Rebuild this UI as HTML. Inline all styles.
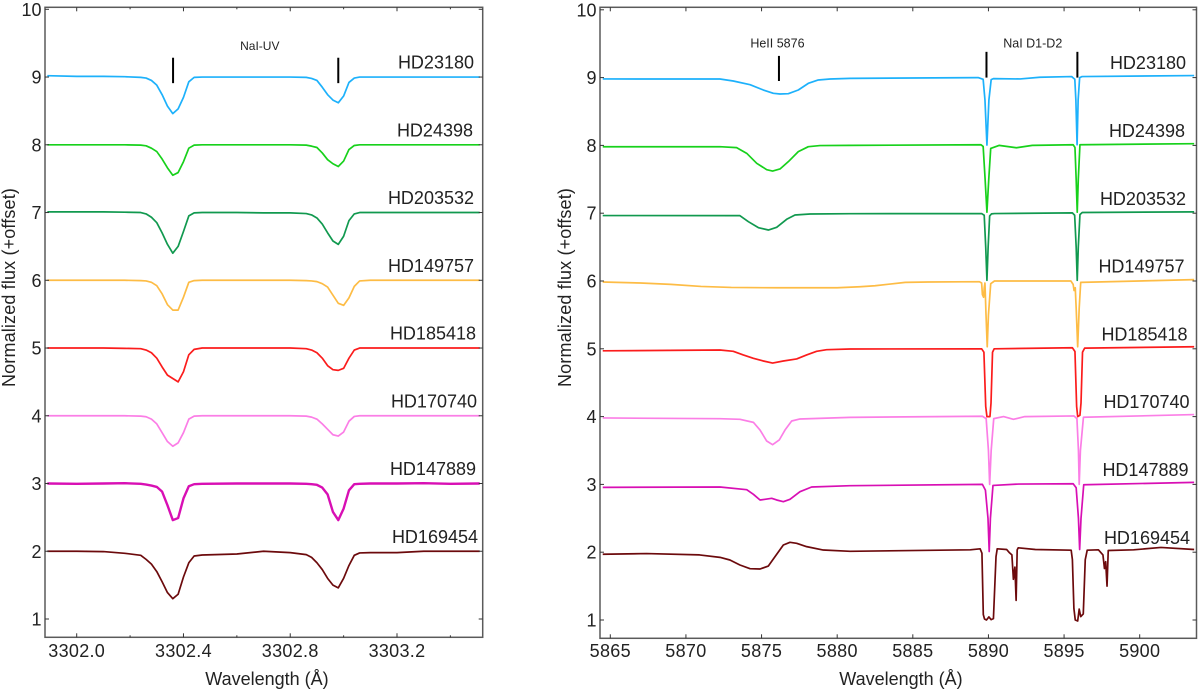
<!DOCTYPE html>
<html lang="en">
<head>
<meta charset="utf-8">
<title>Normalized stellar spectra</title>
<style>
  html, body { margin: 0; padding: 0; background: #fff; }
  svg { display: block; }
  text { font-family: "Liberation Sans", sans-serif; fill: #222; }
</style>
</head>
<body>
<svg id="figure" xmlns="http://www.w3.org/2000/svg" width="1200" height="691" viewBox="0 0 1200 691">
  <g id="left-panel"></g>
  <g id="right-panel"></g>
</svg>
<script>
const starNames = ["HD23180", "HD24398", "HD203532", "HD149757", "HD185418", "HD170740", "HD147889", "HD169454"];
const starSlugs = ["hd23180", "hd24398", "hd203532", "hd149757", "hd185418", "hd170740", "hd147889", "hd169454"];
const starColors = ["#1db1fb", "#17d11b", "#11994f", "#fdbc45", "#fb1c1c", "#fb7ee6", "#d80fb4", "#6c0a0c"];
const labelFlux = [9, 8, 7, 6, 5, 4, 3, 2];

const yTickValues = [1, 2, 3, 4, 5, 6, 7, 8, 9, 10];
const leftXTicks = [3302.0, 3302.4, 3302.8, 3303.2];
const leftXMinorTicks = [3302.2, 3302.6, 3303.0, 3303.4];
const rightXTicks = [5865, 5870, 5875, 5880, 5885, 5890, 5895, 5900];

const leftWave = [3301.89, 3302.0, 3302.1, 3302.18, 3302.24, 3302.26, 3302.28, 3302.30, 3302.32, 3302.34, 3302.36, 3302.38, 3302.40, 3302.42, 3302.44, 3302.47, 3302.6, 3302.7, 3302.8, 3302.86, 3302.88, 3302.90, 3302.92, 3302.94, 3302.96, 3302.98, 3303.0, 3303.02, 3303.04, 3303.06, 3303.1, 3303.2, 3303.3, 3303.4, 3303.51];
const leftHD23180 = [9.02, 9.01, 9.01, 9.005, 8.995, 8.985, 8.95, 8.88, 8.74, 8.57, 8.46, 8.53, 8.70, 8.93, 8.995, 9.0, 9.0, 9.0, 9.0, 8.995, 8.98, 8.95, 8.85, 8.74, 8.66, 8.62, 8.72, 8.92, 8.985, 9.0, 9.0, 9.0, 9.0, 9.0, 9.0];
const leftHD24398 = [8.0, 8.0, 8.0, 8.0, 7.995, 7.985, 7.95, 7.90, 7.79, 7.66, 7.55, 7.59, 7.75, 7.95, 7.995, 8.0, 8.0, 8.0, 8.0, 7.995, 7.98, 7.96, 7.88, 7.78, 7.72, 7.68, 7.76, 7.93, 7.99, 8.0, 8.0, 8.0, 8.0, 8.0, 8.0];
const leftHD203532 = [7.01, 7.01, 7.01, 7.005, 7.0, 6.98, 6.93, 6.85, 6.70, 6.53, 6.40, 6.50, 6.72, 6.95, 6.995, 7.0, 7.0, 6.995, 6.995, 6.985, 6.965, 6.92, 6.83, 6.70, 6.58, 6.53, 6.65, 6.88, 6.98, 7.0, 7.0, 7.0, 7.0, 7.0, 7.0];
const leftHD149757 = [6.0, 6.0, 6.0, 6.0, 5.995, 5.99, 5.97, 5.92, 5.80, 5.64, 5.56, 5.56, 5.75, 5.97, 5.995, 6.0, 6.0, 6.0, 6.0, 5.995, 5.99, 5.98, 5.95, 5.90, 5.78, 5.66, 5.63, 5.74, 5.91, 5.99, 6.0, 6.0, 6.0, 6.0, 6.0];
const leftHD185418 = [5.0, 5.0, 5.0, 4.995, 4.99, 4.97, 4.93, 4.85, 4.72, 4.60, 4.55, 4.50, 4.65, 4.90, 4.98, 5.0, 5.0, 5.0, 5.0, 4.99, 4.97, 4.93, 4.85, 4.74, 4.68, 4.67, 4.70, 4.85, 4.97, 5.0, 5.0, 5.0, 5.0, 5.0, 5.0];
const leftHD170740 = [4.0, 4.0, 4.0, 4.0, 3.995, 3.985, 3.95, 3.88, 3.75, 3.62, 3.55, 3.60, 3.75, 3.95, 3.995, 4.0, 4.0, 4.0, 4.0, 3.995, 3.98, 3.95, 3.88, 3.80, 3.72, 3.70, 3.76, 3.92, 3.99, 4.0, 4.0, 4.0, 4.0, 4.0, 4.0];
const leftHD147889 = [3.0, 2.995, 3.0, 3.005, 2.995, 2.985, 2.97, 2.95, 2.88, 2.68, 2.46, 2.49, 2.78, 2.96, 2.99, 2.995, 3.0, 3.0, 3.0, 2.995, 2.99, 2.98, 2.94, 2.84, 2.58, 2.46, 2.63, 2.90, 2.99, 2.995, 3.0, 3.0, 3.005, 2.995, 3.0];
const leftHD169454 = [2.0, 2.0, 1.995, 1.97, 1.94, 1.88, 1.81, 1.70, 1.55, 1.39, 1.30, 1.365, 1.62, 1.83, 1.93, 1.945, 1.96, 2.0, 1.98, 1.95, 1.91, 1.83, 1.73, 1.60, 1.50, 1.46, 1.60, 1.79, 1.94, 1.975, 1.98, 1.98, 2.0, 2.0, 2.0];
const leftFluxes = [leftHD23180, leftHD24398, leftHD203532, leftHD149757, leftHD185418, leftHD170740, leftHD147889, leftHD169454];

const rightWaveHD23180 = [5864.5, 5872.25, 5873.13, 5874.24, 5875.12, 5875.78, 5876.22, 5876.77, 5877.43, 5878.09, 5878.75, 5879.53, 5880.85, 5889.32, 5889.65, 5889.77, 5889.9, 5890.03, 5890.18, 5890.33, 5892.1, 5893.4, 5895.5, 5895.71, 5895.78, 5895.86, 5895.93, 5896.03, 5896.19, 5903.6];
const rightFluxHD23180 = [8.98, 8.979, 8.95, 8.896, 8.817, 8.768, 8.758, 8.763, 8.817, 8.915, 8.965, 8.979, 8.989, 9.0, 8.975, 8.67, 8.005, 8.67, 8.97, 8.985, 8.98, 9.005, 9.015, 8.975, 8.67, 8.01, 8.67, 9.0, 9.015, 9.03];
const rightWaveHD24398 = [5864.5, 5872.25, 5873.35, 5874.02, 5874.68, 5875.34, 5875.73, 5876.22, 5876.77, 5877.43, 5878.09, 5878.86, 5880.85, 5889.5, 5889.65, 5889.78, 5889.9, 5890.02, 5890.15, 5890.7, 5891.85, 5892.9, 5895.6, 5895.72, 5895.8, 5895.87, 5895.94, 5896.05, 5903.6];
const rightFluxHD24398 = [7.98, 7.981, 7.967, 7.883, 7.736, 7.642, 7.622, 7.652, 7.76, 7.908, 7.981, 7.998, 8.0, 8.01, 7.985, 7.5, 7.015, 7.5, 7.955, 8.0, 7.965, 8.0, 8.01, 7.97, 7.5, 7.015, 7.5, 8.01, 8.025];
const rightWaveHD203532 = [5864.5, 5873.57, 5874.13, 5874.79, 5875.45, 5876.0, 5876.66, 5877.21, 5878.2, 5880.85, 5889.55, 5889.72, 5889.82, 5889.9, 5889.98, 5890.08, 5890.2, 5890.4, 5895.55, 5895.7, 5895.8, 5895.87, 5895.94, 5896.05, 5896.2, 5903.6];
const rightFluxHD203532 = [6.965, 6.964, 6.875, 6.787, 6.752, 6.792, 6.91, 6.973, 6.988, 6.993, 6.995, 6.97, 6.5, 6.01, 6.5, 6.96, 6.99, 6.995, 7.005, 6.97, 6.5, 6.01, 6.5, 6.98, 7.01, 7.02];
const rightWaveHD149757 = [5864.5, 5867, 5869, 5871, 5873, 5876, 5880, 5881.5, 5882.5, 5883.5, 5884.5, 5886, 5889.4, 5889.55, 5889.6, 5889.68, 5889.72, 5889.77, 5889.84, 5889.92, 5890.0, 5890.15, 5890.4, 5895.45, 5895.6, 5895.66, 5895.74, 5895.8, 5895.9, 5896.0, 5896.1, 5903.6];
const rightFluxHD149757 = [5.985, 5.97, 5.95, 5.92, 5.905, 5.90, 5.90, 5.915, 5.93, 5.955, 5.98, 5.985, 5.99, 5.97, 5.80, 5.76, 5.90, 5.97, 5.5, 5.03, 5.5, 5.96, 6.0, 6.0, 5.95, 5.86, 5.90, 5.60, 5.03, 5.6, 5.98, 6.02];
const rightWaveHD185418 = [5864.5, 5872.25, 5873.13, 5873.79, 5874.46, 5875.12, 5875.73, 5876.44, 5877.32, 5877.98, 5878.64, 5879.3, 5880.85, 5889.55, 5889.7, 5889.82, 5889.9, 5890.1, 5890.17, 5890.27, 5890.38, 5895.55, 5895.72, 5895.83, 5895.9, 5896.05, 5896.12, 5896.22, 5896.36, 5903.6];
const rightFluxHD185418 = [4.97, 4.982, 4.963, 4.909, 4.859, 4.82, 4.79, 4.82, 4.85, 4.909, 4.963, 4.987, 4.997, 5.0, 4.95, 4.15, 4.0, 4.0, 4.2, 4.95, 5.0, 5.015, 4.96, 4.15, 4.0, 4.02, 4.2, 4.95, 5.01, 5.03];
const rightWaveHD170740 = [5864.5, 5872.25, 5873.57, 5874.46, 5874.9, 5875.34, 5875.73, 5876.17, 5876.55, 5876.99, 5877.54, 5880.85, 5889.6, 5889.85, 5890.0, 5890.08, 5890.18, 5890.35, 5891.0, 5891.65, 5892.4, 5895.65, 5895.85, 5895.95, 5896.0, 5896.08, 5896.28, 5903.6];
const rightFluxHD170740 = [3.98, 3.969, 3.96, 3.915, 3.802, 3.64, 3.586, 3.655, 3.802, 3.935, 3.965, 3.989, 4.005, 3.97, 3.5, 3.0, 3.5, 3.97, 4.0, 3.96, 4.0, 4.01, 3.97, 3.5, 3.0, 3.5, 3.99, 4.03];
const rightWaveHD147889 = [5864.5, 5872.25, 5874.02, 5874.46, 5874.9, 5875.23, 5875.67, 5876.0, 5876.44, 5876.88, 5877.54, 5878.31, 5880.85, 5889.6, 5889.8, 5889.97, 5890.05, 5890.13, 5890.3, 5892, 5895.6, 5895.8, 5895.95, 5896.03, 5896.12, 5896.3, 5903.6];
const rightFluxHD147889 = [2.956, 2.962, 2.922, 2.854, 2.77, 2.78, 2.795, 2.77, 2.745, 2.78, 2.893, 2.962, 2.981, 3.0, 2.915, 2.5, 2.01, 2.5, 2.985, 3.005, 3.01, 2.95, 2.5, 2.04, 2.5, 2.995, 3.03];
const rightWaveHD169454 = [5864.5, 5867.4, 5870.9, 5872.25, 5872.91, 5873.57, 5874.24, 5874.9, 5875.45, 5875.89, 5876.44, 5876.88, 5877.32, 5877.98, 5879.08, 5880.85, 5888.8, 5889.45, 5889.57, 5889.66, 5889.74, 5889.87, 5890.03, 5890.18, 5890.33, 5890.5, 5890.58, 5891.2, 5891.4, 5891.55, 5891.65, 5891.75, 5891.83, 5891.9, 5891.97, 5893.1, 5895.47, 5895.55, 5895.65, 5895.74, 5895.9, 5896.0, 5896.1, 5896.27, 5896.4, 5896.53, 5897.27, 5897.57, 5897.67, 5897.75, 5897.84, 5897.92, 5899.6, 5901.4, 5903.6];
const rightFluxHD169454 = [1.97, 1.98, 1.96, 1.924, 1.885, 1.811, 1.757, 1.752, 1.796, 1.934, 2.106, 2.146, 2.131, 2.082, 2.032, 2.013, 2.035, 2.05, 1.985, 1.08, 1.015, 1.0, 1.045, 1.005, 1.02, 1.935, 2.05, 2.04, 1.99, 1.96, 1.6, 1.78, 1.29, 2.035, 2.065, 2.04, 2.03, 1.89, 1.17, 1.0, 0.985, 1.16, 1.05, 1.09, 1.89, 2.03, 2.035, 1.96, 1.76, 1.86, 1.5, 2.025, 2.035, 2.07, 2.04];
const rightWaves = [rightWaveHD23180, rightWaveHD24398, rightWaveHD203532, rightWaveHD149757, rightWaveHD185418, rightWaveHD170740, rightWaveHD147889, rightWaveHD169454];
const rightFluxes = [rightFluxHD23180, rightFluxHD24398, rightFluxHD203532, rightFluxHD149757, rightFluxHD185418, rightFluxHD170740, rightFluxHD147889, rightFluxHD169454];

const leftMarkerWave = [3302.361, 3302.98];
const leftMarkerLow = [8.91, 8.91];
const leftMarkerHigh = [9.285, 9.285];
const rightMarkerWave = [5876.15, 5889.87, 5895.88];
const rightMarkerLow = [8.95, 9.0, 9.0];
const rightMarkerHigh = [9.32, 9.38, 9.38];
const leftAnnotations = ["NaI-UV"];
const leftAnnotationWave = [3302.686];
const rightAnnotations = ["HeII 5876", "NaI D1-D2"];
const rightAnnotationWave = [5876.05, 5892.93];

const NS = "http://www.w3.org/2000/svg";

function makeLinear(d0, d1, r0, r1) {
  return function (v) { return r0 + (v - d0) * (r1 - r0) / (d1 - d0); };
}
function addLine(parent, x1, y1, x2, y2, color, width) {
  const el = document.createElementNS(NS, "line");
  el.setAttribute("x1", x1);
  el.setAttribute("y1", y1);
  el.setAttribute("x2", x2);
  el.setAttribute("y2", y2);
  el.setAttribute("stroke", color);
  el.setAttribute("stroke-width", width);
  parent.appendChild(el);
  return el;
}
function addText(parent, x, y, str, size, anchor) {
  const el = document.createElementNS(NS, "text");
  el.setAttribute("x", x);
  el.setAttribute("y", y);
  el.setAttribute("font-size", size);
  el.setAttribute("text-anchor", anchor);
  el.textContent = str;
  parent.appendChild(el);
  return el;
}

function drawPanel(cfg) {
  const g = document.getElementById(cfg.id);
  const xs = makeLinear(cfg.xD0, cfg.xD1, cfg.xP0, cfg.xP1);
  const ys = makeLinear(1, 10, cfg.yOne, cfg.yTen);

  starNames.forEach(function (name, i) {
    const wave = cfg.waves[i];
    const flux = cfg.fluxes[i];
    const pts = wave.map(function (w, k) { return xs(w).toFixed(2) + "," + ys(flux[k]).toFixed(2); });
    const line = document.createElementNS(NS, "polyline");
    line.setAttribute("points", pts.join(" "));
    line.setAttribute("fill", "none");
    line.setAttribute("stroke", starColors[i]);
    line.setAttribute("stroke-width", cfg.prefix === "left" && i === 6 ? 2.4 : 1.7);
    line.setAttribute("stroke-linejoin", "round");
    
    
    g.appendChild(line);

    const label = addText(g, cfg.labelRight[i], ys(labelFlux[i]) - 8.4, name, 18, "end");
    
    
  });

  const frame = document.createElementNS(NS, "rect");
  frame.setAttribute("x", cfg.left);
  frame.setAttribute("y", cfg.top);
  frame.setAttribute("width", cfg.right - cfg.left);
  frame.setAttribute("height", cfg.bottom - cfg.top);
  frame.setAttribute("fill", "none");
  frame.setAttribute("stroke", "#5a5a5a");
  frame.setAttribute("stroke-width", 1.5);
  
  
  g.appendChild(frame);

  yTickValues.forEach(function (v) {
    const y = ys(v);
    const t1 = addLine(g, cfg.left, y, cfg.left + 4, y, "#333", 1);
    
    
    const t2 = addLine(g, cfg.right - 4, y, cfg.right, y, "#333", 1);
    
    
    const lab = addText(g, cfg.left - 3.5, y + 6.5, String(v), 18, "end");
    
    
  });

  cfg.xTicks.forEach(function (v) {
    const x = xs(v);
    const t1 = addLine(g, x, cfg.bottom, x, cfg.bottom - 4, "#333", 1);
    
    
    const t2 = addLine(g, x, cfg.top, x, cfg.top + 4, "#333", 1);
    
    
    const lab = addText(g, x, 657, v.toFixed(cfg.xDigits), 18, "middle");
    lab.setAttribute("letter-spacing", "0.3");
    
    
  });

  cfg.xMinor.forEach(function (v) {
    const x = xs(v);
    const t1 = addLine(g, x, cfg.bottom, x, cfg.bottom - 2, "#333", 1);
    
    
    const t2 = addLine(g, x, cfg.top, x, cfg.top + 2, "#333", 1);
    
    
  });

  cfg.markerWave.forEach(function (w, i) {
    const m = addLine(g, xs(w), ys(cfg.markerLow[i]), xs(w), ys(cfg.markerHigh[i]), "#000", 2);
    
    
  });

  cfg.annotations.forEach(function (str, i) {
    const a = addText(g, xs(cfg.annotationWave[i]), cfg.annotationY, str, cfg.annotationSize, "middle");
    
    
  });

  const xt = addText(g, cfg.xTitleX, 685, "Wavelength (Å)", 18, "middle");
  
  

  const yt = addText(g, 0, 0, "Normalized flux (+offset)", 18, "middle");
  yt.setAttribute("letter-spacing", "0.15");
  yt.setAttribute("transform", "translate(" + cfg.yTitleX + ",287.5) rotate(-90)");
  
  
}

drawPanel({
  id: "left-panel", prefix: "left",
  xD0: 3302.0, xD1: 3303.2, xP0: 76.7, xP1: 397,
  left: 45, right: 482.7, top: 7.3, bottom: 637.3, yOne: 619, yTen: 9.3,
  waves: starNames.map(function () { return leftWave; }),
  fluxes: leftFluxes,
  labelRight: [474, 473, 474, 474, 476, 477, 476, 478],
  xTicks: leftXTicks, xMinor: leftXMinorTicks, xDigits: 1,
  markerWave: leftMarkerWave, markerLow: leftMarkerLow, markerHigh: leftMarkerHigh,
  annotations: leftAnnotations, annotationWave: leftAnnotationWave, annotationY: 50, annotationSize: 12,
  xTitleX: 267, yTitleX: 15
});

drawPanel({
  id: "right-panel", prefix: "right",
  xD0: 5865, xD1: 5900, xP0: 610.3, xP1: 1139.7,
  left: 600, right: 1196.5, top: 7.3, bottom: 638.3, yOne: 620, yTen: 9.8,
  waves: rightWaves,
  fluxes: rightFluxes,
  labelRight: [1186, 1185, 1186, 1184.5, 1187.5, 1189.5, 1188.5, 1190],
  xTicks: rightXTicks, xMinor: [], xDigits: 0,
  markerWave: rightMarkerWave, markerLow: rightMarkerLow, markerHigh: rightMarkerHigh,
  annotations: rightAnnotations, annotationWave: rightAnnotationWave, annotationY: 47.5, annotationSize: 12.5,
  xTitleX: 901, yTitleX: 571
});
</script>
</body>
</html>
